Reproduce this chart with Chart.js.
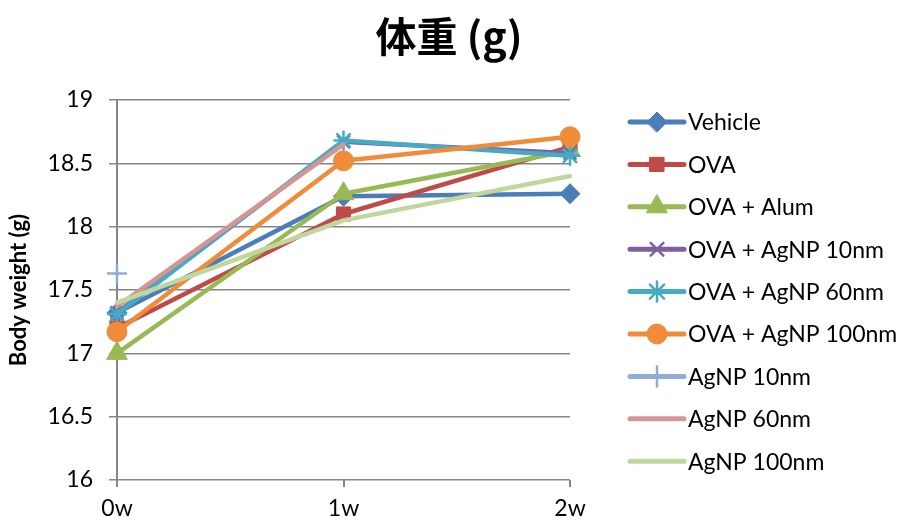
<!DOCTYPE html>
<html>
<head>
<meta charset="utf-8">
<script src="https://cdn.jsdelivr.net/npm/chart.js@4.4.1/dist/chart.umd.min.js"></script>
<style>
  html, body { margin: 0; padding: 0; background: #fff; }
  #wrap { width: 906px; height: 528px; }
</style>
</head>
<body>
<div id="wrap"><canvas id="grafico" width="906" height="528"></canvas></div>
<script>
// semanas y series de peso corporal
const titulo = '体重 (g)';
const semanas = ['0w', '1w', '2w'];
const ticksY = [16, 16.5, 17, 17.5, 18, 18.5, 19];

const vehicle = [17.32, 18.24, 18.26];
const ova = [17.2, 18.1, 18.63];
const ovaAlum = [17.0, 18.26, 18.6];
const ovaAg10 = [17.32, 18.67, 18.58];
const ovaAg60 = [17.31, 18.68, 18.56];
const ovaAg100 = [17.17, 18.52, 18.71];
const ag10 = [17.63, null, null];
const ag60 = [17.37, 18.65, null];
const ag100 = [17.4, 18.05, 18.4];

const fuente = 'Lato, "Open Sans", sans-serif';

const series = [
  { label: 'Vehicle', data: vehicle, color: '#4A7EBB', style: 'rectRot', r: 10 },
  { label: 'OVA', data: ova, color: '#BE4B48', style: 'rect', r: 10 },
  { label: 'OVA + Alum', data: ovaAlum, color: '#98B954', style: 'triangle', r: 12 },
  { label: 'OVA + AgNP 10nm', data: ovaAg10, color: '#7D60A0', style: 'crossRot', r: 9 },
  { label: 'OVA + AgNP 60nm', data: ovaAg60, color: '#46AAC5', style: 'star', r: 10 },
  { label: 'OVA + AgNP 100nm', data: ovaAg100, color: '#F08B3A', style: 'circle', r: 10 },
  { label: 'AgNP 10nm', data: ag10, color: '#8EACD6', style: 'cross', r: 10 },
  { label: 'AgNP 60nm', data: ag60, color: '#D69593', style: false, r: 0 },
  { label: 'AgNP 100nm', data: ag100, color: '#C0D69C', style: false, r: 0 }
];

// titulo centrado en todo el lienzo + leyenda a la derecha
const decorado = {
  id: 'decorado',
  afterDraw(chart) {
    const ctx = chart.ctx;
    ctx.save();
    ctx.fillStyle = '#000';
    ctx.font = 'bold 41px "Noto Sans CJK JP", ' + fuente;
    ctx.textAlign = 'center';
    ctx.textBaseline = 'middle';
    ctx.fillText(titulo, 449, 36);

    chart.data.datasets.forEach((ds, i) => {
      const y = 122 + i * 42.4;
      ctx.strokeStyle = ds.borderColor;
      ctx.lineWidth = 5;
      ctx.lineCap = 'round';
      ctx.beginPath();
      ctx.moveTo(630, y);
      ctx.lineTo(684, y);
      ctx.stroke();
      if (ds.pointStyle) {
        ctx.fillStyle = ds.borderColor;
        ctx.strokeStyle = ds.borderColor;
        ctx.lineWidth = ds.pointBorderWidth;
        Chart.helpers.drawPoint(ctx, {
          pointStyle: ds.pointStyle,
          radius: ds.pointRadius,
          borderWidth: ds.pointBorderWidth
        }, 657, y);
      }
      ctx.fillStyle = '#000';
      ctx.font = '23px ' + fuente;
      ctx.textAlign = 'left';
      ctx.textBaseline = 'middle';
      ctx.fillText(ds.label, 688, y + 1);
    });
    ctx.restore();
  }
};

const ctx = document.getElementById('grafico').getContext('2d');
const grafico = new Chart(ctx, {
  type: 'line',
  data: {
    labels: semanas,
    datasets: series.map((s, i) => ({
      label: s.label,
      data: s.data,
      borderColor: s.color,
      backgroundColor: s.color,
      borderWidth: 4.5,
      pointStyle: s.style,
      pointRadius: s.r,
      pointHoverRadius: s.r,
      pointBackgroundColor: s.color,
      pointBorderColor: s.color,
      pointBorderWidth: (s.style === 'star' || s.style === 'cross' || s.style === 'crossRot') ? 2.5 : 1,
      borderCapStyle: 'round',
      borderJoinStyle: 'round',
      tension: 0,
      spanGaps: false,
      order: series.length - i
    }))
  },
  options: {
    responsive: false,
    animation: false,
    layout: { padding: { left: 0, right: 336, top: 100, bottom: 0 } },
    plugins: {
      legend: { display: false },
      tooltip: { enabled: false },
      title: { display: false }
    },
    scales: {
      x: {
        offset: false,
        grid: { drawOnChartArea: false, drawTicks: true, tickLength: 7, color: '#868686', lineWidth: 2 },
        border: { display: false },
        ticks: { color: '#000', font: { family: fuente, size: 23 }, padding: 8 },
        afterFit(scale) { scale.height = 48; }
      },
      y: {
        min: 16,
        max: 19,
        afterBuildTicks(scale) { scale.ticks = ticksY.map(v => ({ value: v })); },
        grid: { color: '#868686', lineWidth: 1.5, tickLength: 8 },
        border: { display: true, color: '#868686', width: 2 },
        ticks: {
          color: '#000',
          font: { family: fuente, size: 23 },
          padding: 16,
          callback: v => String(v)
        },
        title: {
          display: true,
          text: 'Body weight (g)',
          color: '#000',
          font: { family: fuente, size: 22, weight: 'bold' },
          padding: { top: 6, bottom: 0 }
        },
        afterFit(scale) { scale.width = 117; }
      }
    }
  },
  plugins: [decorado]
});
</script>
</body>
</html>
